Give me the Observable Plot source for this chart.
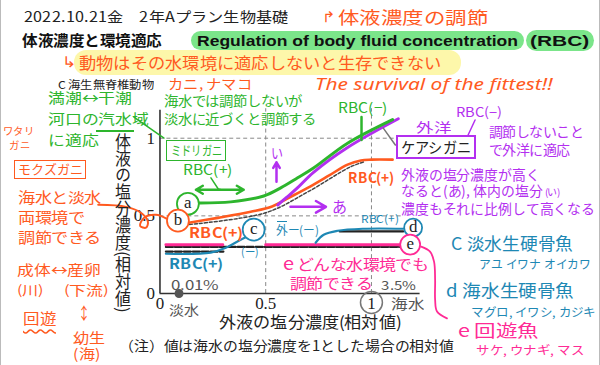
<!DOCTYPE html>
<html><head><meta charset="utf-8">
<script src="https://cdn.jsdelivr.net/npm/d3@7"></script>
<script src="https://cdn.jsdelivr.net/npm/@observablehq/plot@0.6"></script>
<style>
@font-face{font-family:"NotoTight";src:local("Noto Sans CJK JP Regular"),local("NotoSansCJKjp-Regular"),local("Noto Sans CJK JP");font-weight:400;ascent-override:88%;descent-override:12%;line-gap-override:0%}
@font-face{font-family:"NotoTight";src:local("Noto Sans CJK JP Bold"),local("NotoSansCJKjp-Bold");font-weight:700;ascent-override:88%;descent-override:12%;line-gap-override:0%}
body{margin:0;background:#fff}
#wrap{position:relative;width:600px;height:365px;overflow:hidden;background:#fff;font-family:"NotoTight","Noto Sans CJK JP","Noto Sans",sans-serif;box-sizing:border-box;border-left:1px solid #bbb;border-right:1px solid #bbb}
#wrap>svg{position:absolute;left:0;top:0;overflow:visible}
</style></head>
<body><div id="wrap"></div>
<script>
// ---- data (relative salt concentration) ----
const xTicks = [0, 0.5, 1];
const yTicks = [0, 0.5, 1];
const gridX = [0.5, 1];
const gridY = [0.5, 1];
const gridYEnd = [1.15, 1.113];
// a: ミドリガニ (green)
const curveA = [[0.184,0.583],[0.335,0.59],[0.491,0.628],[0.571,0.68],[0.651,0.745],[0.726,0.808],[0.887,0.968],[1.10,1.12]];
// ケアシガニ (purple)
const curveK = [[0.557,0.57],[0.6,0.62],[0.65,0.68],[0.726,0.78],[0.887,0.94],[1.127,1.125]];
// b: モクズガニ (orange)
const curveB = [[0.137,0.456],[0.274,0.487],[0.429,0.526],[0.53,0.56],[0.6,0.61],[0.712,0.69],[0.8,0.76],[0.887,0.83],[0.95,0.857],[1.0,0.862],[1.1,0.862]];
// c: freshwater bony fish (cyan)
const curveC = [[0.028,0.256],[0.24,0.263],[0.311,0.295],[0.373,0.34],[0.41,0.365]];
// d: marine bony fish (cyan)
const curveD = [[0.736,0.327],[0.774,0.378],[0.84,0.404],[0.962,0.417],[1.15,0.417]];
// e: migratory fish (magenta)
const curveE1 = [[0.028,0.314],[0.297,0.314]];
const curveE2 = [[0.5,0.314],[1.137,0.314]];
// textbook base lines (black)
const baseE = [[0.028,0.300],[1.14,0.300]];
const baseC = [[0.028,0.270],[0.30,0.270]];
const baseD = [[0.85,0.400],[1.15,0.400]];
const baseB = [[0.14,0.445],[0.5,0.52],[0.7,0.655],[0.9,0.815],[0.97,0.85]];
// circled labels
const labelText = ["a","b","c","d","e"];
const labelX = [0.132,0.085,0.443,1.197,1.183];
const labelY = [0.578,0.469,0.411,0.424,0.315];
// annotation strokes
const orangeWave = [[-0.292,0.571],[-0.16,0.558],[-0.09,0.52],[-0.057,0.462],[-0.066,0.424],[-0.094,0.436],[-0.075,0.488],[-0.019,0.507],[0.033,0.481]];
const magentaBrace = [[1.235,0.302],[1.277,0.27],[1.296,0.205],[1.301,0.09],[1.301,-0.039],[1.31,-0.116],[1.357,-0.16]];
const kisuiLeader = [[-0.123,1.136],[0.019,1.001]];
const greenRbcLeader = [[0.241,0.745],[0.278,0.668]];
const greenTopLeader = [[0.953,1.136],[0.953,0.988]];
const purpleLeader = [[1.49,1.117],[1.457,1.021]];
const grayLeader = [[1.056,1.065],[1.113,0.956]];
const greenArrows = [[0.283,0.668,0.17,0.668],[0.283,0.668,0.396,0.668]];
const upArrow = [[0.551,0.719,0.551,0.845]];
const rightArrow = [[0.617,0.558,0.785,0.558]];
const lowDot = [[0.09,0]];
const tickCircle = [[1,-0.058]];

const GREEN="#2db52d", ORANGE="#ff5a1f", PURPLE="#b32ff0", MAGENTA="#ff2b95", CYAN="#1e88b4";
const labelColor = [GREEN, ORANGE, CYAN, CYAN, MAGENTA];
const labelR = [11,11,11,9,10];

const px = {x:d=>d[0], y:d=>d[1]};
const dash = {stroke:"#888", strokeDasharray:"4,3", strokeWidth:1};
const fmt = d => String(d);
const marks = [
  Plot.ruleX(gridX, {x:d=>d, y1:0, y2:1.19, ...dash}),
  Plot.ruleY(gridY, {y:d=>d, x1:0, x2:(d,i)=>gridYEnd[i], ...dash}),
  Plot.ruleX([0], {y1:0, y2:1.18, stroke:"#333", strokeWidth:1.6}),
  Plot.ruleY([0], {x1:0, x2:1.23, stroke:"#333", strokeWidth:1.6}),
  Plot.axisX({ticks:xTicks, tickFormat:fmt, tickSize:0, tickPadding:3, label:null, fontSize:17}),
  Plot.axisY({ticks:yTicks, tickFormat:fmt, tickSize:0, tickPadding:5, label:null, fontSize:17}),
  Plot.line(baseB, {...px, stroke:"#444", strokeWidth:1.5, strokeDasharray:"3,2", curve:"catmull-rom"}),
  Plot.line(baseE, {...px, stroke:"#222", strokeWidth:2.2, strokeDasharray:"7,2"}),
  Plot.line(baseC, {...px, stroke:"#222", strokeWidth:2.2, strokeDasharray:"7,2"}),
  Plot.line(baseD, {...px, stroke:"#222", strokeWidth:2.2}),
  Plot.line(curveE1, {...px, stroke:MAGENTA, strokeWidth:3}),
  Plot.line(curveE2, {...px, stroke:MAGENTA, strokeWidth:3}),
  Plot.line(curveC, {...px, stroke:CYAN, strokeWidth:2.2, curve:"catmull-rom"}),
  Plot.line(curveD, {...px, stroke:CYAN, strokeWidth:2.2, curve:"catmull-rom"}),
  Plot.line(curveB, {...px, stroke:ORANGE, strokeWidth:2.6, curve:"catmull-rom"}),
  Plot.line(curveK, {...px, stroke:PURPLE, strokeWidth:3, curve:"catmull-rom"}),
  Plot.line(curveA, {...px, stroke:GREEN, strokeWidth:3, curve:"catmull-rom"}),
  Plot.line(orangeWave, {...px, stroke:ORANGE, strokeWidth:2, curve:"catmull-rom"}),
  Plot.line(magentaBrace, {...px, stroke:MAGENTA, strokeWidth:1.8, curve:"catmull-rom"}),
  Plot.line(kisuiLeader, {...px, stroke:GREEN, strokeWidth:1.5}),
  Plot.line(greenRbcLeader, {...px, stroke:GREEN, strokeWidth:1.5}),
  Plot.line(greenTopLeader, {...px, stroke:GREEN, strokeWidth:2.5}),
  Plot.line(purpleLeader, {...px, stroke:PURPLE, strokeWidth:1.5}),
  Plot.line(grayLeader, {...px, stroke:"#777", strokeWidth:1.5}),
  Plot.arrow(greenArrows, {x1:d=>d[0], y1:d=>d[1], x2:d=>d[2], y2:d=>d[3], stroke:GREEN, strokeWidth:2.5, headLength:7}),
  Plot.arrow(upArrow, {x1:d=>d[0], y1:d=>d[1], x2:d=>d[2], y2:d=>d[3], stroke:PURPLE, strokeWidth:2.5, headLength:7}),
  Plot.arrow(rightArrow, {x1:d=>d[0], y1:d=>d[1], x2:d=>d[2], y2:d=>d[3], stroke:PURPLE, strokeWidth:2.5, headLength:7}),
  Plot.dot(lowDot, {...px, r:4.5, fill:"#555", stroke:"none"}),
  Plot.dot(tickCircle, {...px, r:11, fill:"none", stroke:"#777", strokeWidth:1.5})
];
labelText.forEach((t,i)=>{
  marks.push(Plot.dot([[labelX[i],labelY[i]]], {...px, r:labelR[i], fill:"white", stroke:labelColor[i], strokeWidth:1.8}));
  marks.push(Plot.text([[labelX[i],labelY[i]]], {...px, text:()=>t, fontSize:17, dy:-1, fill:"#222"}));
});

const plot = Plot.plot({
  width:600, height:365,
  marginLeft:159, marginRight:180, marginTop:107, marginBottom:71,
  x:{domain:[0,1.23], axis:null},
  y:{domain:[0,1.2], axis:null},
  style:{background:"transparent", overflow:"visible", fontFamily:"'Liberation Serif','DejaVu Serif',serif", fontSize:"17px", color:"#222"},
  marks
});
const wrap = document.getElementById("wrap");
wrap.appendChild(plot);

// ---- layout helpers for the hand-written annotations ----
function box(l,t,w,h,css){const d=document.createElement("div");d.style.cssText=`position:absolute;left:${l}px;top:${t}px;width:${w}px;height:${h}px;box-sizing:border-box;${css}`;wrap.appendChild(d);return d;}
function T(s,x0,x1,cy,size,color,extra=""){
  const d=document.createElement("div");d.textContent=s;
  d.style.cssText=`position:absolute;left:${x0}px;top:0px;font-size:${size}px;color:${color};white-space:nowrap;line-height:1;transform-origin:0 50%;${extra}`;
  wrap.appendChild(d);
  const w=d.offsetWidth,h=d.offsetHeight;
  d.style.top=(cy-h/2)+"px";
  d.style.transform=`scaleX(${(x1-x0)/w})`;
}
// multi-line note in one block: lines separated by <br>
function M(html,x0,x1,cyFirst,lh,size,color,extra=""){
  const d=document.createElement("div");d.innerHTML=html;
  d.style.cssText=`position:absolute;left:${x0}px;top:${cyFirst-lh/2}px;font-size:${size}px;line-height:${lh}px;color:${color};white-space:nowrap;transform-origin:0 0;${extra}`;
  wrap.appendChild(d);
  d.style.transform=`scaleX(${(x1-x0)/d.offsetWidth})`;
}
function render(){
// highlights and boxes
box(190,31,333,19,"background:#7be58a;border-radius:10px");
box(525,30,68,21,"background:#7be58a;border-radius:11px");
box(73,50,387,25,"background:#fdf7aa;border-radius:12px");
box(165,140,60,21,`border:1.5px solid ${GREEN};background:#fff`);
box(395,135,80,24,`border:2px solid ${PURPLE};background:#fff`);
box(13,160,72,19,`border:1.5px solid ${ORANGE}`);
box(95,130,38,1.5,`background:${GREEN}`);
box(276,221,10,1.2,`background:${CYAN}`);

// title area
T("2022.10.21金　2年Aプラン生物基礎",23,287,17,14,"#222");
T("↱",321,335,17,15,ORANGE,"font-family:'DejaVu Sans'");
T("体液濃度の調節",337,487,17,17,ORANGE);
T("体液濃度と環境適応",21,161,40,15,"#111","font-weight:700");
T("Regulation of body fluid concentration",196,517,40,15,"#111","font-weight:700;font-family:'Liberation Sans'");
T("(RBC)",529,589,40,15,"#111","font-weight:700;font-family:'Liberation Sans'");
T("↳",61,76,62,15,ORANGE,"font-family:'DejaVu Sans'");
T("動物はその水環境に適応しないと生存できない",78,440,63,16,ORANGE);
T("C  海生無脊椎動物",57,153,84,11,"#222");
T("カニ, ナマコ",167,251,84,14,ORANGE);
T("The survival of the fittest!!",314,552,84,16,ORANGE,"font-style:italic;font-family:'Noto Sans'");

// left notes
M("満潮↔干潮<br>河口の汽水域<br>に適応",47,148,98,21,14,GREEN);
M("ワタリ<br>&nbsp;&nbsp;&nbsp;ガニ",2,33,131,14,10,ORANGE);
T("モクズガニ",17,82,169,13,ORANGE);
M("海水と淡水<br>両環境で<br>調節できる",17,100,198,20,14.5,ORANGE);
T("成体↔産卵",16,100,270,14,ORANGE);
T("(川)",16,42,290,13,ORANGE);
T("(下流)",63,107,290,13,ORANGE);
T("回遊",22,55,318,15,ORANGE,`text-decoration:underline wavy ${ORANGE};text-underline-offset:5px`);
T("↕",77,89,313,17,ORANGE);
M("幼生<br>(海)",72,104,338,16,14,ORANGE);

// axis titles
const yl=document.createElement("div");
yl.textContent="体液の塩分濃度(相対値)";
yl.style.cssText="position:absolute;writing-mode:vertical-rl;font-size:16px;line-height:1;color:#222;transform-origin:50% 0;white-space:nowrap";
wrap.appendChild(yl);
yl.style.left=(122-yl.offsetWidth/2)+"px";yl.style.top="133px";
yl.style.transform=`scaleY(${179/yl.offsetHeight})`;
T("外液の塩分濃度(相対値)",218,400,322,16,"#222");
T("（注）値は海水の塩分濃度を1とした場合の相対値",118,453,346,14,"#222");

// in-plot notes
M("海水では調節しないが<br>淡水に近づくと調節する",163,315,101,18,13.5,GREEN);
T("ミドリガニ",170,221,150,13,GREEN);
T("RBC(+)",182,232,170,14,GREEN);
T("RBC(+)",188,242,233,14,ORANGE,"font-weight:700");
T("(ー)",240,258,251,11,CYAN);
T("外ー(ー)",275,318,230,12,CYAN);
T("RBC(+)",360,398,218,11,CYAN);
T("RBC(+)",168,222,264,14,CYAN,"font-weight:700");
M("<span style='font-size:17px'>e</span> どんな水環境でも<br>&nbsp;&nbsp;調節できる",282,427,263,19,14.5,MAGENTA);
T("い",270,282,153,14,PURPLE);
T("あ",331,346,207,16,PURPLE);
T("RBC(+)",347,393,178,14,ORANGE,"font-weight:700");
T("RBC(−)",337,387,108,14,GREEN);
T("0.01%",170,218,285,13,"#555");
T("3.5%",380,415,285,12,"#555");
T("淡水",168,198,310,14,"#555");
T("海水",390,423,304,14,"#555");

// right notes
T("外洋",415,450,127,13,PURPLE);
T("RBC(−)",455,500,112,13,PURPLE);
T("ケアシガニ",400,470,147,15,"#222");
M("調節しないこと<br>で外洋に適応",488,582,132,18,13.5,PURPLE);
M("外液の塩分濃度が高く<br>なると(あ), 体内の塩分<span style='font-size:10px'> (い)</span><br>濃度もそれに比例して高くなる",400,594,175,16.5,14,PURPLE);
T("C 淡水生硬骨魚",450,572,243,17,CYAN);
T("アユ  イワナ  オイカワ",478,590,264,12,CYAN);
T("d 海水生硬骨魚",445,573,290,17,CYAN);
T("マグロ, イワシ, カジキ",470,595,312,12,CYAN);
T("e 回遊魚",457,538,330,17,MAGENTA);
T("サケ, ウナギ, マス",475,583,350,12,MAGENTA);
}
if (document.fonts && document.fonts.load) {
  Promise.all([document.fonts.load("14px NotoTight","あ"),document.fonts.load("bold 14px NotoTight","あ")]).catch(()=>{}).then(render, render);
} else render();
</script>
</body></html>
